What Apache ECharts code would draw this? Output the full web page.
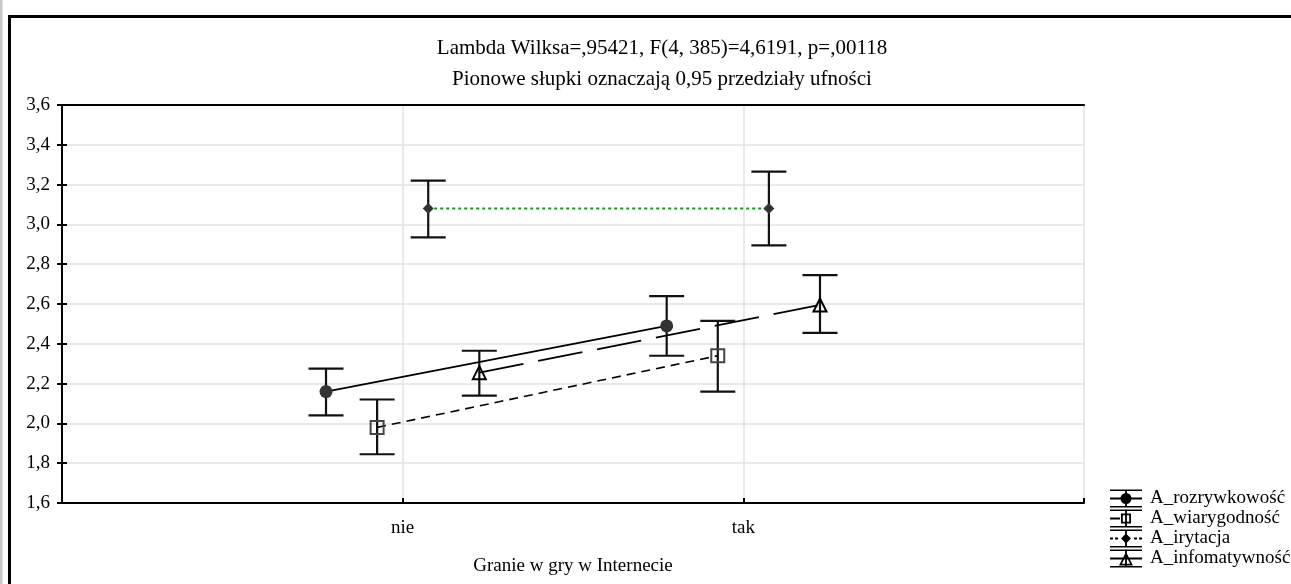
<!DOCTYPE html>
<html>
<head>
<meta charset="utf-8">
<script src="https://cdn.jsdelivr.net/npm/echarts@6/dist/echarts.min.js"></script>
<style>
  html, body { margin: 0; padding: 0; background: #fff; }
  #main { width: 1291px; height: 584px; }
</style>
</head>
<body>
<div id="main"></div>
<script>
var categories = ['nie', 'tak'];
var seriesNames = ['A_rozrywkowość', 'A_wiarygodność', 'A_irytacja', 'A_infomatywność'];
var offsets = [-0.225, -0.075, 0.075, 0.225];

// means and 0.95 confidence limits, [nie, tak]
var rozrywkowoscMean = [2.16, 2.49];
var rozrywkowoscLow = [2.04, 2.34];
var rozrywkowoscHigh = [2.275, 2.64];

var wiarygodnoscMean = [1.98, 2.34];
var wiarygodnoscLow = [1.845, 2.16];
var wiarygodnoscHigh = [2.12, 2.515];

var irytacjaMean = [3.08, 3.08];
var irytacjaLow = [2.935, 2.895];
var irytacjaHigh = [3.22, 3.265];

var infomatywnoscMean = [2.255, 2.595];
var infomatywnoscLow = [2.14, 2.455];
var infomatywnoscHigh = [2.365, 2.745];

var means = [rozrywkowoscMean, wiarygodnoscMean, irytacjaMean, infomatywnoscMean];
var lows = [rozrywkowoscLow, wiarygodnoscLow, irytacjaLow, infomatywnoscLow];
var highs = [rozrywkowoscHigh, wiarygodnoscHigh, irytacjaHigh, infomatywnoscHigh];

var font = "'Liberation Serif', 'Times New Roman', serif";

var chartDom = document.getElementById('main');
var myChart = echarts.init(chartDom);
var option;

var styles = [
  { line: { color: '#000', width: 1.8, type: 'solid' }, symbol: 'circle', size: 13,
    item: { color: '#333', borderColor: '#333', borderWidth: 0 } },
  { line: { color: '#000', width: 1.6, type: [9, 6] }, symbol: 'rect', size: 13,
    item: { color: 'rgba(0,0,0,0)', borderColor: '#444', borderWidth: 2 } },
  { line: { color: '#14961e', width: 2, type: [3, 3] }, symbol: 'diamond', size: 11,
    item: { color: '#333', borderColor: '#333', borderWidth: 0 } },
  { line: { color: '#000', width: 1.8, type: [45, 15] }, symbol: 'triangle', size: 13,
    item: { color: 'rgba(0,0,0,0)', borderColor: '#000', borderWidth: 2 } }
];

// legend glyphs: caps + bar + line + marker, 32 x 18
var capsPath = 'M0,0H32V1.6H0Z M0,16.4H32V18H0Z M15.1,0H16.9V18H15.1Z ';
var icons = [
  capsPath + 'M0,8.1H32V9.9H0Z M10.5,9A5.5,5.5 0 1 1 21.5,9A5.5,5.5 0 1 1 10.5,9Z',
  capsPath + 'M0,8.1H10V9.9H0Z M11,4H21V14H11Z M12.8,5.8V12.2H19.2V5.8Z',
  capsPath + 'M0,8.1H3V9.9H0Z M5,8.1H8V9.9H5Z M24,8.1H27V9.9H24Z M29,8.1H32V9.9H29Z M16,4L21,9L16,14L11,9Z',
  capsPath + 'M0,8.1H32V9.9H0Z M16,2.5L23,16H9Z M16,6.5L11.8,14.3H20.2Z'
];

function errorBar(params, api) {
  var x = api.value(0);
  var pLo = api.coord([x, api.value(1)]);
  var pHi = api.coord([x, api.value(2)]);
  var w = 17.5;
  var st = { stroke: '#111', lineWidth: 2.2 };
  return {
    type: 'group',
    children: [
      { type: 'line', shape: { x1: pLo[0], y1: pLo[1], x2: pHi[0], y2: pHi[1] }, style: st },
      { type: 'line', shape: { x1: pLo[0] - w, y1: pLo[1], x2: pLo[0] + w, y2: pLo[1] }, style: st },
      { type: 'line', shape: { x1: pHi[0] - w, y1: pHi[1], x2: pHi[0] + w, y2: pHi[1] }, style: st }
    ]
  };
}

var series = [];
seriesNames.forEach(function (name, i) {
  var barData = [];
  var lineData = [];
  categories.forEach(function (c, j) {
    var x = j + 1 + offsets[i];
    barData.push([x, lows[i][j], highs[i][j]]);
    lineData.push([x, means[i][j]]);
  });
  series.push({
    name: name + '_ci',
    type: 'custom',
    renderItem: errorBar,
    encode: { x: 0, y: [1, 2] },
    data: barData,
    z: 3,
    silent: true
  });
  series.push({
    name: name,
    type: 'line',
    data: lineData,
    symbol: styles[i].symbol,
    symbolSize: styles[i].size,
    showSymbol: true,
    lineStyle: styles[i].line,
    itemStyle: styles[i].item,
    z: 4
  });
});

var frameLine = { show: true, lineStyle: { color: '#000', width: 2 } };
var tickStyle = { inside: true, length: 5, lineStyle: { color: '#000', width: 2 } };
var gridLine = { show: true, lineStyle: { color: '#e2e2e2', width: 1.5 } };

option = {
  animation: false,
  textStyle: { fontFamily: font },
  title: {
    text: 'Lambda Wilksa=,95421, F(4, 385)=4,6191, p=,00118',
    subtext: 'Pionowe słupki oznaczają 0,95 przedziały ufności',
    left: 657,
    textAlign: 'center',
    top: 33,
    itemGap: 10,
    textStyle: { fontFamily: font, fontSize: 21, fontWeight: 'normal', color: '#000' },
    subtextStyle: { fontFamily: font, fontSize: 21, color: '#000' }
  },
  legend: {
    orient: 'vertical',
    left: 1105,
    top: 484,
    itemWidth: 32,
    itemHeight: 18,
    itemGap: 1,
    selectedMode: false,
    textStyle: { fontFamily: font, fontSize: 19, color: '#000', padding: [0, 0, 0, 3] },
    data: seriesNames.map(function (n, i) {
      return { name: n, icon: 'path://' + icons[i], itemStyle: { color: '#000', borderWidth: 0 } };
    })
  },
  grid: {
    left: 62,
    top: 105,
    right: 207,
    bottom: 81,
    outerBoundsMode: 'none',
    containLabel: false
  },
  xAxis: [
    {
      type: 'value',
      min: 0,
      max: 3,
      interval: 1,
      name: 'Granie w gry w Internecie',
      nameLocation: 'middle',
      nameGap: 54,
      nameTextStyle: { fontFamily: font, fontSize: 19, color: '#000' },
      axisLine: frameLine,
      axisTick: tickStyle,
      axisLabel: {
        margin: 16,
        fontFamily: font,
        fontSize: 19,
        color: '#000',
        formatter: function (v) { return categories[v - 1] || ''; }
      },
      splitLine: gridLine
    },
    {
      type: 'value',
      position: 'top',
      min: 0,
      max: 3,
      interval: 1,
      axisLine: frameLine,
      axisTick: { show: false },
      axisLabel: { show: false },
      splitLine: { show: false }
    }
  ],
  yAxis: [
    {
      type: 'value',
      min: 1.6,
      max: 3.6,
      interval: 0.2,
      axisLine: frameLine,
      axisTick: tickStyle,
      axisLabel: {
        margin: 12,
        fontFamily: font,
        fontSize: 19,
        color: '#000',
        formatter: function (v) { return v.toFixed(1).replace('.', ','); }
      },
      splitLine: gridLine
    },
    {
      type: 'value',
      position: 'right',
      min: 1.6,
      max: 3.6,
      interval: 0.2,
      axisLine: frameLine,
      axisTick: tickStyle,
      axisLabel: { show: false },
      splitLine: { show: false }
    }
  ],
  graphic: [
    { type: 'rect', shape: { x: 0, y: 0, width: 2.5, height: 584 }, style: { fill: '#c8c8c8' } },
    { type: 'rect', shape: { x: 8, y: 15, width: 1283, height: 3 }, style: { fill: '#000' } },
    { type: 'rect', shape: { x: 8, y: 15, width: 3, height: 569 }, style: { fill: '#000' } }
  ],
  series: series
};

option && myChart.setOption(option);
</script>
</body>
</html>
